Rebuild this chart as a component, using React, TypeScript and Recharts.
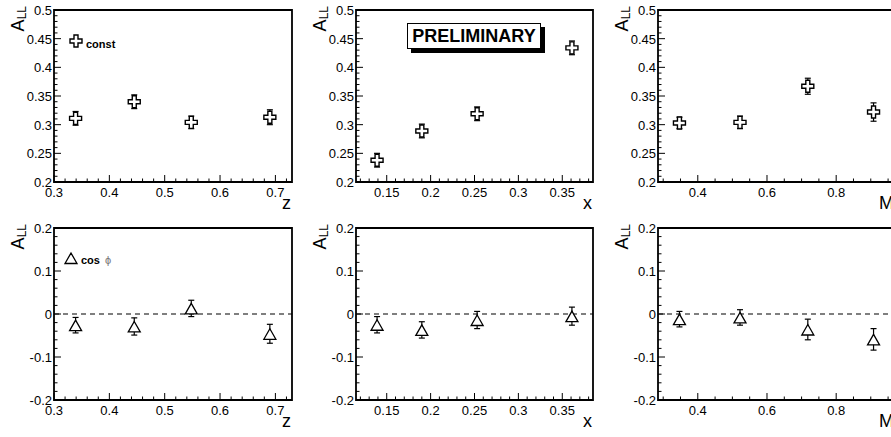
import React from 'react';
import {
    ScatterChart,
    Scatter,
    XAxis,
    YAxis,
    ErrorBar,
    ReferenceLine,
    ReferenceArea,
    Legend,
    Label
} from 'recharts';

// bin centres, shared by both rows
const zBins = [0.339, 0.445, 0.548, 0.690];
const xBins = [0.139, 0.190, 0.253, 0.361];
const mBins = [0.347, 0.522, 0.718, 0.908];

// A_LL, constant term
const constZ = [0.311, 0.340, 0.304, 0.313];
const constZErr = [0.012, 0.012, 0.011, 0.013];
const constX = [0.238, 0.289, 0.319, 0.434];
const constXErr = [0.012, 0.012, 0.012, 0.012];
const constM = [0.303, 0.304, 0.367, 0.322];
const constMErr = [0.010, 0.011, 0.014, 0.016];

// A_LL, cos phi term
const cosZ = [-0.026, -0.029, 0.013, -0.046];
const cosZErr = [0.018, 0.020, 0.019, 0.022];
const cosX = [-0.025, -0.037, -0.014, -0.005];
const cosXErr = [0.019, 0.019, 0.020, 0.021];
const cosM = [-0.012, -0.008, -0.036, -0.059];
const cosMErr = [0.018, 0.018, 0.024, 0.025];

// axis ticks
const zTicks = [0.3, 0.4, 0.5, 0.6, 0.7];
const zTickLabels = ['0.3', '0.4', '0.5', '0.6', '0.7'];
const xTicks = [0.15, 0.2, 0.25, 0.3, 0.35];
const xTickLabels = ['0.15', '0.2', '0.25', '0.3', '0.35'];
const mTicks = [0.4, 0.6, 0.8];
const mTickLabels = ['0.4', '0.6', '0.8'];
const constTicks = [0.2, 0.25, 0.3, 0.35, 0.4, 0.45, 0.5];
const constTickLabels = ['0.2', '0.25', '0.3', '0.35', '0.4', '0.45', '0.5'];
const cosTicks = [-0.2, -0.1, 0, 0.1, 0.2];
const cosTickLabels = ['-0.2', '-0.1', '0', '0.1', '0.2'];

const FONT = '"Liberation Sans", Arial, Helvetica, sans-serif';
const ROW_TOP = [0, 218];
const COL_LEFT = [0, 302, 604];
const PLOT_W = [238, 237, 237];
const X_DOMAIN: [number, number][] = [[0.3, 0.73], [0.115, 0.385], [0.285, 0.97]];
const Y_DOMAIN: [number, number][] = [[0.2, 0.5], [-0.2, 0.2]];

const steps = (lo: number, hi: number, step: number) => {
    const out: number[] = [];
    const n = Math.floor((hi - lo) / step + 1e-6);
    for (let i = 0; i <= n; i++) out.push(Math.round((lo + i * step) * 10000) / 10000);
    return out;
};

const OpenCross = (p: any) => {
    const { cx, cy } = p;
    if (cx == null || cy == null) return null;
    const a = 6, b = 2;
    const pts = [[-b, -a], [b, -a], [b, -b], [a, -b], [a, b], [b, b], [b, a], [-b, a], [-b, b], [-a, b], [-a, -b], [-b, -b]]
        .map(([dx, dy]) => `${cx + dx},${cy + dy}`).join(' ');
    return <polygon points={pts} fill="#fff" stroke="#000" strokeWidth={1.4} />;
};

const OpenTriangle = (p: any) => {
    const { cx, cy } = p;
    if (cx == null || cy == null) return null;
    return (
        <polygon
            points={`${cx},${cy - 5} ${cx + 6},${cy + 5.5} ${cx - 6},${cy + 5.5}`}
            fill="#fff" stroke="#000" strokeWidth={1.3}
        />
    );
};

const makeXTick = (majors: number[], labels: string[]) => (p: any) => {
    const v = p.payload.value;
    const i = majors.findIndex(m => Math.abs(m - v) < 1e-6);
    const len = i >= 0 ? 7 : 3.5;
    return (
        <g>
            <line x1={p.x} x2={p.x} y1={p.y} y2={p.y - len} stroke="#000" strokeWidth={1} />
            {i >= 0 && (
                <text x={p.x} y={p.y + 15} textAnchor="middle" fontSize={13} fontFamily={FONT} fill="#000">
                    {labels[i]}
                </text>
            )}
        </g>
    );
};

const makeYTick = (majors: number[], labels: string[]) => (p: any) => {
    const v = p.payload.value;
    const i = majors.findIndex(m => Math.abs(m - v) < 1e-6);
    const len = i >= 0 ? 7 : 3.5;
    return (
        <g>
            <line x1={p.x} x2={p.x + len} y1={p.y} y2={p.y} stroke="#000" strokeWidth={1} />
            {i >= 0 && (
                <text x={p.x - 2} y={p.y + 5} textAnchor="end" fontSize={13} fontFamily={FONT} fill="#000">
                    {labels[i]}
                </text>
            )}
        </g>
    );
};

const xTitle = (title: string) => (p: any) => {
    const vb = p.viewBox || {};
    return (
        <text x={vb.x + vb.width - 1} y={vb.y + 27} textAnchor="end" fontSize={18} fontFamily={FONT} fill="#000">
            {title}
        </text>
    );
};

const yTitle = (p: any) => {
    const vb = p.viewBox || {};
    const x = vb.x + vb.width - 30;
    const y = vb.y - 4;
    return (
        <text x={x} y={y} transform={`rotate(-90 ${x} ${y})`} textAnchor="end" fontFamily={FONT} fill="#000">
            <tspan fontSize={18}>A</tspan>
            <tspan fontSize={12} dy={2}>LL</tspan>
        </text>
    );
};

const legendContent = (kind: 'cross' | 'triangle') => (props: any) => {
    const name: string = props.payload?.[0]?.value ?? '';
    const [word, sym] = name.split(' ');
    return (
        <svg width={60} height={18} style={{ display: 'block', overflow: 'visible' }}>
            {kind === 'cross'
                ? <OpenCross cx={7} cy={7} />
                : <OpenTriangle cx={7} cy={7} />}
            <text x={17} y={kind === 'cross' ? 14 : 12.5} fontSize={11} fontWeight="bold" fontFamily={FONT} fill="#000">
                {word}
                {sym && <tspan dx={5} fill="#777" fontWeight="normal" fontSize={11}>{sym}</tspan>}
            </text>
        </svg>
    );
};

type PanelProps = {
    row: number;
    col: number;
    xs: number[];
    ys: number[];
    errs: number[];
    xMajor: number[];
    xLabels: string[];
    xMinorStep: number;
    title: string;
    name: string;
    legend?: { left: number; top: number };
};

const Panel: React.FC<PanelProps> = ({ row, col, xs, ys, errs, xMajor, xLabels, xMinorStep, title, name, legend }) => {
    const plotW = PLOT_W[col];
    const xDomain = X_DOMAIN[col];
    const yDomain = Y_DOMAIN[row];
    const yMajor = row === 0 ? constTicks : cosTicks;
    const yLabels = row === 0 ? constTickLabels : cosTickLabels;
    const yMinorStep = row === 0 ? 0.01 : 0.02;
    const xFirst = Math.ceil(xDomain[0] / xMinorStep - 1e-6) * xMinorStep;
    const xAll = steps(xFirst, xDomain[1], xMinorStep);
    const yAll = steps(yDomain[0], yDomain[1], yMinorStep);
    const data = xs.map((x, i) => ({ x, y: ys[i], err: errs[i] }));
    const kind = row === 0 ? 'cross' : 'triangle';

    return (
        <div style={{ position: 'absolute', left: COL_LEFT[col], top: ROW_TOP[row] }}>
            <ScatterChart width={plotW + 64} height={218} margin={{ top: 10, right: 10, bottom: 0, left: 0 }}>
                <XAxis
                    type="number"
                    dataKey="x"
                    domain={xDomain}
                    allowDataOverflow
                    ticks={xAll}
                    interval={0}
                    tickSize={0}
                    tickMargin={0}
                    tickLine={false}
                    axisLine={false}
                    tick={makeXTick(xMajor, xLabels)}
                    height={36}
                >
                    <Label content={xTitle(title)} />
                </XAxis>
                <YAxis
                    type="number"
                    dataKey="y"
                    domain={yDomain}
                    allowDataOverflow
                    ticks={yAll}
                    interval={0}
                    tickSize={0}
                    tickMargin={0}
                    tickLine={false}
                    axisLine={false}
                    tick={makeYTick(yMajor, yLabels)}
                    width={54}
                >
                    <Label content={yTitle} />
                </YAxis>
                {row === 1 && (
                    <ReferenceLine y={0} stroke="#000" strokeWidth={1.2} strokeDasharray="5 4" />
                )}
                <ReferenceArea
                    x1={xDomain[0]} x2={xDomain[1]} y1={yDomain[0]} y2={yDomain[1]}
                    fill="none" fillOpacity={0} stroke="#000" strokeWidth={1.8}
                />
                <Scatter
                    name={name}
                    data={data}
                    shape={kind === 'cross' ? <OpenCross /> : <OpenTriangle />}
                    isAnimationActive={false}
                >
                    <ErrorBar dataKey="err" direction="y" width={3} stroke="#000" strokeWidth={1.2} />
                </Scatter>
                {legend && (
                    <Legend
                        layout="horizontal"
                        verticalAlign="middle"
                        align="center"
                        content={legendContent(kind)}
                        wrapperStyle={{ position: 'absolute', left: legend.left, top: legend.top, width: 60, height: 18 }}
                    />
                )}
            </ScatterChart>
        </div>
    );
};

const App: React.FC = () => {
    return (
        <div style={{ position: 'absolute', left: 0, top: 0, width: 891, height: 437, overflow: 'hidden', background: '#fff' }}>
            <Panel row={0} col={0} xs={zBins} ys={constZ} errs={constZErr} xMajor={zTicks} xLabels={zTickLabels} xMinorStep={0.02} title="z" name="const" legend={{ left: 69, top: 34 }} />
            <Panel row={0} col={1} xs={xBins} ys={constX} errs={constXErr} xMajor={xTicks} xLabels={xTickLabels} xMinorStep={0.01} title="x" name="const" />
            <Panel row={0} col={2} xs={mBins} ys={constM} errs={constMErr} xMajor={mTicks} xLabels={mTickLabels} xMinorStep={0.05} title="M" name="const" />
            <Panel row={1} col={0} xs={zBins} ys={cosZ} errs={cosZErr} xMajor={zTicks} xLabels={zTickLabels} xMinorStep={0.02} title="z" name="cos ϕ" legend={{ left: 64, top: 33 }} />
            <Panel row={1} col={1} xs={xBins} ys={cosX} errs={cosXErr} xMajor={xTicks} xLabels={xTickLabels} xMinorStep={0.01} title="x" name="cos ϕ" />
            <Panel row={1} col={2} xs={mBins} ys={cosM} errs={cosMErr} xMajor={mTicks} xLabels={mTickLabels} xMinorStep={0.05} title="M" name="cos ϕ" />
            <div
                style={{
                    position: 'absolute', left: 407, top: 23, width: 132, height: 24,
                    border: '1.5px solid #000', boxShadow: '4px 4px 0 #000', background: '#fff',
                    fontFamily: FONT, fontWeight: 'bold', fontSize: 18, lineHeight: '24px',
                    textAlign: 'center', color: '#000'
                }}
            >
                PRELIMINARY
            </div>
        </div>
    );
};

export default App;
